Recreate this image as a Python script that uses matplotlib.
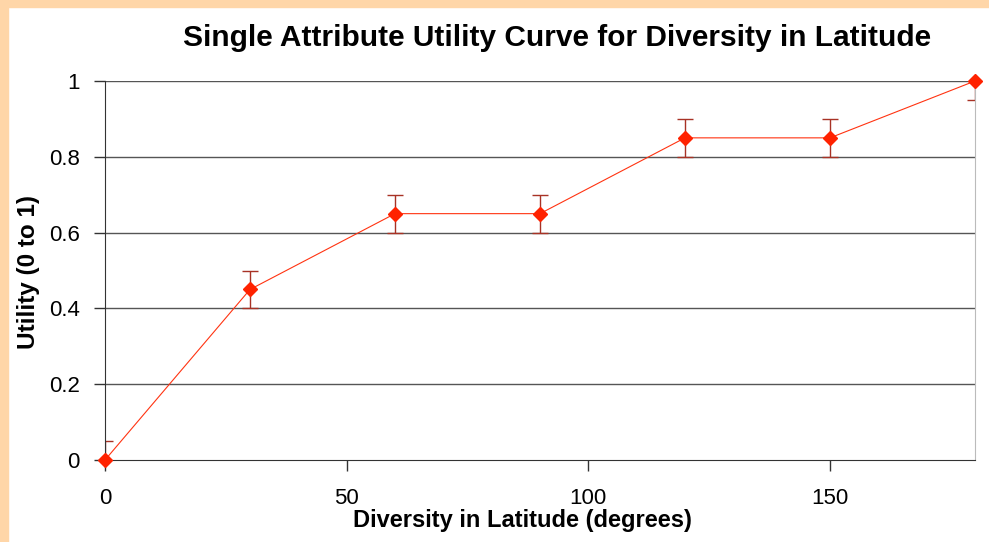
import matplotlib
matplotlib.use("Agg")
import matplotlib.pyplot as plt
from matplotlib.patches import Rectangle

# values
latitude = [0, 30, 60, 90, 120, 150, 180]
utility = [0.0, 0.45, 0.65, 0.65, 0.85, 0.85, 1.0]
err = [0.05, 0.05, 0.05, 0.05, 0.05, 0.05, 0.05]
xticks = [0, 50, 100, 150]
yticks = [0, 0.2, 0.4, 0.6, 0.8, 1]
ytick_labels = ["0", "0.2", "0.4", "0.6", "0.8", "1"]

plt.rcParams['font.family'] = ['Liberation Sans', 'DejaVu Sans']

fig = plt.figure(figsize=(9.89, 5.42), dpi=100)
fig.patch.set_facecolor("white")

# peach frame on left and top
peach = "#FFD6A8"
fig.patches.append(Rectangle((0, 0), 8/989, 1, transform=fig.transFigure, color=peach, zorder=0))
fig.patches.append(Rectangle((0, 1 - 7/542), 1, 7/542, transform=fig.transFigure, color=peach, zorder=0))

ax = fig.add_axes([105/989, 1 - 460/542, 870/989, 379/542])

for y in yticks[1:]:
    ax.axhline(y, color="#555555", lw=1.0, zorder=1)

ax.errorbar(latitude, utility, yerr=err, fmt="none", ecolor="#A83225",
            elinewidth=1.0, capsize=5.5, capthick=1.0, zorder=2)
ax.plot(latitude, utility, color="#FF3311", lw=0.8, marker="D", ms=7,
        mfc="#FF2200", mec="#FF2200", zorder=3, clip_on=False)

ax.set_xlim(0, 180)
ax.set_ylim(0, 1)
ax.set_xticks(xticks)
ax.set_yticks(yticks)
ax.set_yticklabels(ytick_labels)

ax.spines["top"].set_visible(False)
ax.spines["right"].set_color("#BBBBBB")
ax.spines["left"].set_color("#333333")
ax.spines["bottom"].set_color("#333333")

ax.tick_params(axis="y", direction="out", length=8, width=1, pad=10, labelsize=16, color="#333333")
ax.tick_params(axis="x", direction="out", length=8, width=1, pad=12, labelsize=16, color="#333333")

fig.text(183/989, 1 - 38/542, "Single Attribute Utility Curve for Diversity in Latitude",
         ha="left", va="center", fontsize=21.5, fontweight="bold")
fig.text(353/989, 1 - 521/542, "Diversity in Latitude (degrees)",
         ha="left", va="center", fontsize=17, fontweight="bold")
fig.text(29/989, 1 - 272/542, "Utility (0 to 1)", rotation=90,
         ha="center", va="center", fontsize=17.5, fontweight="bold")

fig.savefig("out.png", dpi=100)
